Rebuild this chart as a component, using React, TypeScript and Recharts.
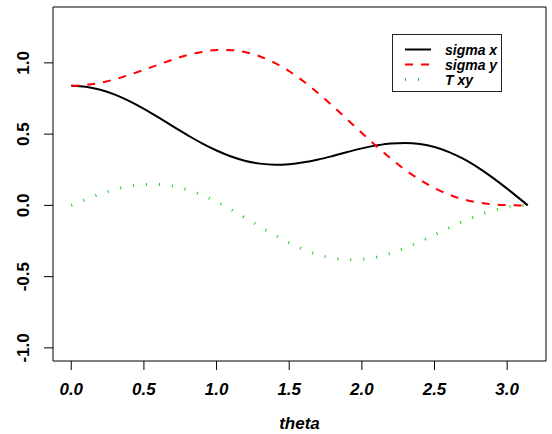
import React from 'react';
import { LineChart, Line, XAxis, YAxis, ReferenceArea, Legend } from 'recharts';

const theta = [0, 0.1, 0.2, 0.3, 0.4, 0.5, 0.6, 0.7, 0.8, 0.9, 1.0, 1.1, 1.2, 1.3, 1.4, 1.5, 1.6, 1.7, 1.8, 1.9, 2.0, 2.1, 2.2, 2.3, 2.4, 2.5, 2.6, 2.7, 2.8, 2.9, 3.0, 3.1, 3.1416];
const sigmaX = [0.840, 0.833, 0.811, 0.777, 0.731, 0.677, 0.617, 0.554, 0.493, 0.435, 0.385, 0.343, 0.312, 0.293, 0.285, 0.289, 0.302, 0.322, 0.347, 0.374, 0.400, 0.421, 0.435, 0.438, 0.430, 0.409, 0.374, 0.326, 0.265, 0.195, 0.117, 0.035, 0];
const sigmaY = [0.840, 0.845, 0.860, 0.885, 0.916, 0.951, 0.988, 1.024, 1.055, 1.077, 1.090, 1.089, 1.075, 1.045, 1.000, 0.941, 0.869, 0.787, 0.697, 0.603, 0.508, 0.415, 0.328, 0.248, 0.179, 0.121, 0.076, 0.042, 0.020, 0.007, 0.002, 0.000, 0];
const tauXY = [0, 0.041, 0.080, 0.112, 0.135, 0.147, 0.147, 0.135, 0.109, 0.072, 0.025, -0.030, -0.089, -0.150, -0.209, -0.263, -0.310, -0.346, -0.370, -0.381, -0.378, -0.363, -0.335, -0.298, -0.254, -0.206, -0.157, -0.110, -0.069, -0.036, -0.013, -0.001, 0];

const xTicks = [0, 0.5, 1, 1.5, 2, 2.5, 3];
const yTicks = [-1, -0.5, 0, 0.5, 1];
const seriesNames = ['sigma x', 'sigma y', 'T xy'];
const xLabel = 'theta';

const xDomain: [number, number] = [-0.1257, 3.2673];
const yDomain: [number, number] = [-1.092, 1.392];

const colors = ['#000000', '#ff0000', '#1ec81e'];
const dashes = [undefined, '8 8', '1 12'];
const widths = [2, 2, 3];

const data = theta.map((t, i) => ({
  theta: t,
  sx: sigmaX[i],
  sy: sigmaY[i],
  txy: tauXY[i],
}));

const FONT = '"Liberation Sans", Arial, Helvetica, sans-serif';

const XTick = (p: any) => (
  <text x={p.x} y={p.y} dy={23} textAnchor="middle" fontFamily={FONT} fontWeight="bold" fontStyle="italic" fontSize={17} fill="#000">
    {Number(p.payload.value).toFixed(1)}
  </text>
);

const YTick = (p: any) => {
  const bx = p.x - 13;
  return (
    <text x={bx} y={p.y} transform={`rotate(-90 ${bx} ${p.y})`} textAnchor="middle" fontFamily={FONT} fontWeight="bold" fontSize={17} fill="#000">
      {Number(p.payload.value).toFixed(1)}
    </text>
  );
};

const LegendBox = () => (
  <div style={{ width: 110, height: 58, border: '1px solid #222', boxSizing: 'border-box', background: '#fff' }}>
    <svg width={108} height={56} style={{ display: 'block' }}>
      {seriesNames.map((n, i) => {
        const cy = 14.5 + i * 15;
        return (
          <g key={n}>
            <line x1={12} x2={38} y1={cy} y2={cy} stroke={colors[i]} strokeWidth={widths[i]} strokeDasharray={dashes[i]} />
            <text x={52} y={cy + 5} fontFamily={FONT} fontWeight="bold" fontStyle="italic" fontSize={14} fill="#000">{n}</text>
          </g>
        );
      })}
    </svg>
  </div>
);

export default function App() {
  return (
    <div style={{ position: 'absolute', left: 0, top: 0, width: 552, height: 434, background: '#fff' }}>
      <LineChart width={552} height={434} data={data} margin={{ top: 7, right: 6, bottom: 0, left: 0 }}>
        <XAxis
          type="number"
          dataKey="theta"
          domain={xDomain}
          ticks={xTicks}
          allowDataOverflow
          axisLine={false}
          tickSize={9}
          tickLine={{ stroke: '#000' }}
          tick={<XTick />}
          height={73}
          label={{ value: xLabel, position: 'insideBottom', offset: 5, style: { fontFamily: FONT, fontWeight: 'bold', fontStyle: 'italic', fontSize: 17, fill: '#000' } }}
        />
        <YAxis
          type="number"
          domain={yDomain}
          ticks={yTicks}
          allowDataOverflow
          axisLine={false}
          tickSize={9}
          tickLine={{ stroke: '#000' }}
          tick={<YTick />}
          width={53}
        />
        <ReferenceArea x1={xDomain[0]} x2={xDomain[1]} y1={yDomain[0]} y2={yDomain[1]} fill="none" fillOpacity={0} stroke="#000" strokeWidth={1} />
        <Line type="monotone" dataKey="sx" name={seriesNames[0]} stroke={colors[0]} strokeWidth={widths[0]} dot={false} isAnimationActive={false} />
        <Line type="monotone" dataKey="sy" name={seriesNames[1]} stroke={colors[1]} strokeWidth={widths[1]} strokeDasharray={dashes[1]} dot={false} isAnimationActive={false} />
        <Line type="monotone" dataKey="txy" name={seriesNames[2]} stroke={colors[2]} strokeWidth={widths[2]} strokeDasharray={dashes[2]} dot={false} isAnimationActive={false} />
        <Legend
          layout="vertical"
          align="center"
          verticalAlign="middle"
          content={<LegendBox />}
          wrapperStyle={{ left: 392, top: 34, width: 110, height: 58 }}
        />
      </LineChart>
    </div>
  );
}
